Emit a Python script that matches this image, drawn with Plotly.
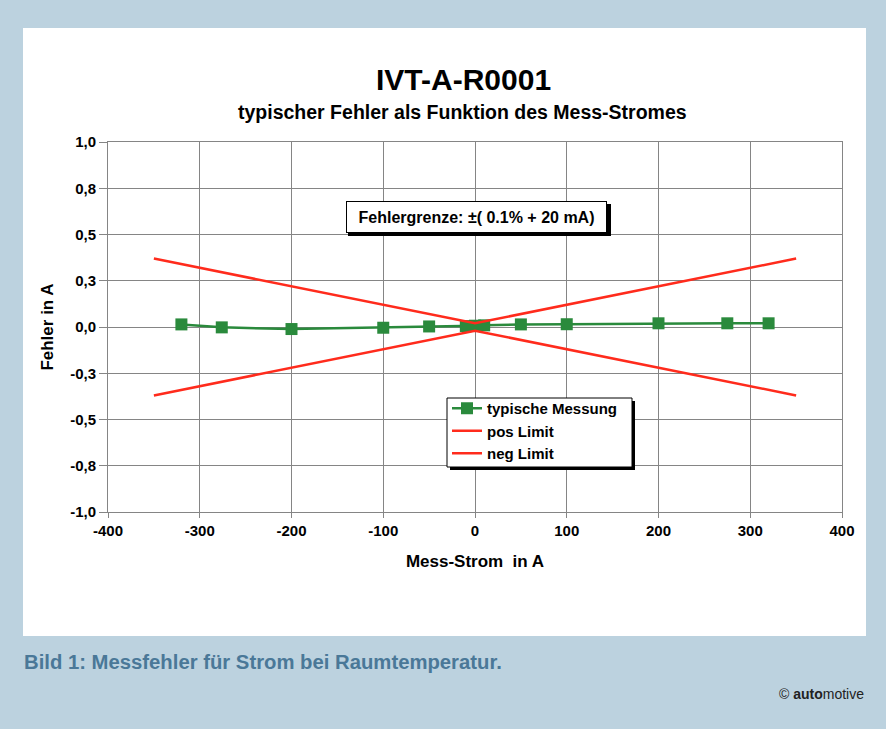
import plotly.graph_objects as go

# data
strom = [-320, -276, -200, -100, -50, -10, 0, 10, 50, 100, 200, 275, 320]
fehler = [0.014, -0.002, -0.011, -0.004, 0.003, 0.005, 0.007, 0.009, 0.014, 0.015, 0.020, 0.020, 0.020]
limit_x = [-350, 0, 350]
pos_limit = [0.37, 0.02, 0.37]
neg_limit = [-0.37, -0.02, -0.37]
y_ticks = [-1.0, -0.75, -0.5, -0.25, 0.0, 0.25, 0.5, 0.75, 1.0]
y_ticktext = ["-1,0", "-0,8", "-0,5", "-0,3", "0,0", "0,3", "0,5", "0,8", "1,0"]
x_ticks = [-400, -300, -200, -100, 0, 100, 200, 300, 400]

W, H = 886, 729
L, R, T, B = 108, 842, 142, 512


def px(x):
    return (x - L) / (R - L)


def py(y):
    return (B - y) / (B - T)


FONT = "Liberation Sans, Arial, sans-serif"
GREEN = "#2a8a3c"
RED = "#ff2b1c"
GRID = "#858585"

fig = go.Figure()
fig.add_trace(go.Scatter(x=strom, y=fehler, mode="lines+markers", name="<b>typische Messung</b>",
                         line=dict(color=GREEN, width=2.5),
                         marker=dict(symbol="square", size=12, color=GREEN)))
fig.add_trace(go.Scatter(x=limit_x, y=pos_limit, mode="lines", name="<b>pos Limit</b>",
                         line=dict(color=RED, width=2.5)))
fig.add_trace(go.Scatter(x=limit_x, y=neg_limit, mode="lines", name="<b>neg Limit</b>",
                         line=dict(color=RED, width=2.5)))

shapes = [
    # white panel
    dict(type="rect", xref="paper", yref="paper", layer="below",
         x0=px(23), x1=px(866), y0=py(636), y1=py(28),
         fillcolor="white", line=dict(width=0)),
    # annotation shadow
    dict(type="rect", xref="paper", yref="paper", layer="above",
         x0=px(348), x1=px(611), y0=py(236), y1=py(204),
         fillcolor="black", line=dict(width=0)),
    # legend shadow
    dict(type="rect", xref="paper", yref="paper", layer="above",
         x0=px(450), x1=px(635), y0=py(470), y1=py(401),
         fillcolor="black", line=dict(width=0)),
    # legend box
    dict(type="rect", xref="paper", yref="paper", layer="above",
         x0=px(447), x1=px(632), y0=py(467), y1=py(398),
         fillcolor="white", line=dict(color="black", width=1)),
]

annotations = [
    dict(text="<b>IVT-A-R0001</b>", x=px(463), y=py(80), xref="paper", yref="paper",
         xanchor="center", yanchor="middle",
         showarrow=False, font=dict(family=FONT, size=30, color="black")),
    dict(text="<b>typischer Fehler als Funktion des Mess-Stromes</b>", x=px(462), y=py(112),
         xref="paper", yref="paper", xanchor="center", yanchor="middle", showarrow=False,
         font=dict(family=FONT, size=19.5, color="black")),
    dict(text="<b>Fehlergrenze: ±( 0.1% + 20 mA)</b>", x=px(476.5), y=py(217),
         xref="paper", yref="paper", xanchor="center", yanchor="middle",
         showarrow=False, font=dict(family=FONT, size=16, color="black"),
         width=247, height=18,
         bgcolor="white", bordercolor="black", borderwidth=1, borderpad=6),
    dict(text="<b>Bild 1: Messfehler für Strom bei Raumtemperatur.</b>", x=px(22), y=py(662),
         xref="paper", yref="paper", xanchor="left", yanchor="middle", showarrow=False,
         font=dict(family=FONT, size=20.3, color="#4a7898")),
    dict(text="© <b>auto</b>motive", x=px(866), y=py(694), xref="paper", yref="paper",
         xanchor="right", yanchor="middle", showarrow=False,
         font=dict(family=FONT, size=14, color="#222222")),
]

fig.update_layout(
    width=W, height=H,
    margin=dict(l=L, r=W - R, t=T, b=H - B, pad=0),
    paper_bgcolor="#bcd2df",
    plot_bgcolor="#c7c9c9",
    font=dict(family=FONT, color="black"),
    showlegend=True,
    legend=dict(x=px(447), y=py(392), xanchor="left", yanchor="top",
                bgcolor="rgba(0,0,0,0)", borderwidth=0,
                font=dict(family=FONT, size=15, color="black"),
                tracegroupgap=0, itemwidth=30),
    shapes=shapes,
    annotations=annotations,
    xaxis=dict(range=[-400, 400], tickvals=x_ticks, ticktext=[f"<b>{v}</b>" for v in x_ticks],
               showgrid=True, gridcolor=GRID, gridwidth=1,
               showline=True, linecolor=GRID, linewidth=1, mirror=True,
               ticks="outside", ticklen=5, tickcolor=GRID,
               zeroline=False, tickfont=dict(size=15, family=FONT),
               title=dict(text="<b>Mess-Strom  in A</b>", font=dict(size=17, family=FONT), standoff=17)),
    yaxis=dict(range=[-1.0, 1.0], tickvals=y_ticks, ticktext=[f"<b>{t}</b>" for t in y_ticktext],
               showgrid=True, gridcolor=GRID, gridwidth=1,
               showline=True, linecolor=GRID, linewidth=1, mirror=True,
               ticks="outside", ticklen=8, tickcolor=GRID,
               zeroline=False, tickfont=dict(size=15, family=FONT),
               title=dict(text="<b>Fehler in A</b>", font=dict(size=17, family=FONT), standoff=12)),
)

fig.write_html("out.html", config={"displayModeBar": False},
               post_script="document.body.style.margin='0';")
